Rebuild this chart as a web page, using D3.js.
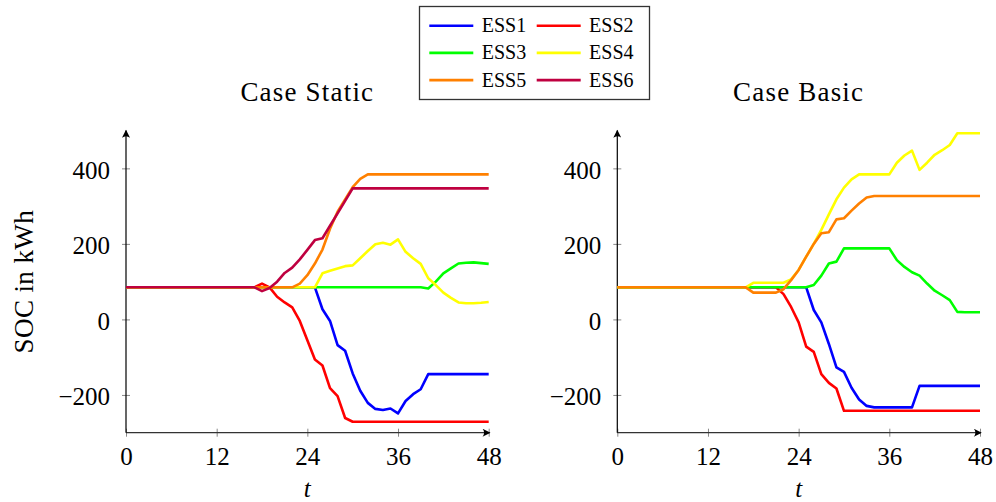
<!DOCTYPE html>
<html lang="en">
<head>
<meta charset="UTF-8">
<title>SOC of ESS - Case Static / Case Basic</title>
<script src="https://d3js.org/d3.v7.min.js"></script>
<style>
  body { margin: 0; background: #fff; }
  text { font-family: "Liberation Serif", "DejaVu Serif", serif; fill: #000; }
</style>
</head>
<body>
<script>
// time steps (hours)
const hours = [
  0, 1, 2, 3, 4, 5, 6, 7, 8, 9,
  10, 11, 12, 13, 14, 15, 16, 17, 18, 19,
  20, 21, 22, 23, 24, 25, 26, 27, 28, 29,
  30, 31, 32, 33, 34, 35, 36, 37, 38, 39,
  40, 41, 42, 43, 44, 45, 46, 47, 48
];

// Case Static
const staticESS1 = [
  85, 85, 85, 85, 85, 85, 85, 85, 85, 85,
  85, 85, 85, 85, 85, 85, 85, 85, 85, 85,
  85, 85, 85, 85, 85, 85, 27, -4, -68, -83,
  -143, -189, -221, -237, -240, -236, -249, -216, -198, -185,
  -145, -145, -145, -145, -145, -145, -145, -145, -145
];
const staticESS2 = [
  85, 85, 85, 85, 85, 85, 85, 85, 85, 85,
  85, 85, 85, 85, 85, 85, 85, 85, 95, 85,
  60, 45, 32, -4, -55, -106, -122, -182, -203, -261,
  -271, -271, -271, -271, -271, -271, -271, -271, -271, -271,
  -271, -271, -271, -271, -271, -271, -271, -271, -271
];
const staticESS3 = [
  85, 85, 85, 85, 85, 85, 85, 85, 85, 85,
  85, 85, 85, 85, 85, 85, 85, 85, 85, 85,
  85, 85, 85, 85, 85, 85, 85, 85, 85, 85,
  85, 85, 85, 85, 85, 85, 85, 85, 85, 85,
  82, 100, 122, 135, 148, 150, 151, 149, 147
];
const staticESS4 = [
  85, 85, 85, 85, 85, 85, 85, 85, 85, 85,
  85, 85, 85, 85, 85, 85, 85, 85, 85, 85,
  85, 85, 85, 85, 85, 85, 122, 129, 135, 141,
  143, 162, 181, 199, 203, 198, 212, 179, 162, 147,
  109, 91, 71, 57, 45, 43, 43, 44, 46
];
const staticESS5 = [
  85, 85, 85, 85, 85, 85, 85, 85, 85, 85,
  85, 85, 85, 85, 85, 85, 85, 85, 85, 85,
  85, 85, 85, 95, 117, 148, 185, 240, 285, 318,
  350, 372, 384, 384, 384, 384, 384, 384, 384, 384,
  384, 384, 384, 384, 384, 384, 384, 384, 384
];
const staticESS6 = [
  85, 85, 85, 85, 85, 85, 85, 85, 85, 85,
  85, 85, 85, 85, 85, 85, 85, 85, 75, 83,
  100, 123, 137, 159, 184, 210, 215, 248, 281, 314,
  347, 347, 347, 347, 347, 347, 347, 347, 347, 347,
  347, 347, 347, 347, 347, 347, 347, 347, 347
];

// Case Basic
const basicESS1 = [
  85, 85, 85, 85, 85, 85, 85, 85, 85, 85,
  85, 85, 85, 85, 85, 85, 85, 85, 85, 85,
  85, 85, 85, 85, 85, 85, 25, -8, -65, -127,
  -139, -181, -212, -229, -233, -233, -233, -233, -233, -233,
  -176, -176, -176, -176, -176, -176, -176, -176, -176
];
const basicESS2 = [
  85, 85, 85, 85, 85, 85, 85, 85, 85, 85,
  85, 85, 85, 85, 85, 85, 85, 85, 85, 85,
  85, 85, 67, 33, -8, -72, -86, -145, -168, -183,
  -242, -242, -242, -242, -242, -242, -242, -242, -242, -242,
  -242, -242, -242, -242, -242, -242, -242, -242, -242
];
const basicESS3 = [
  85, 85, 85, 85, 85, 85, 85, 85, 85, 85,
  85, 85, 85, 85, 85, 85, 85, 85, 85, 85,
  85, 85, 85, 85, 85, 85, 91, 116, 148, 153,
  188, 188, 188, 188, 188, 188, 188, 157, 139, 125,
  116, 95, 76, 64, 51, 20, 19, 19, 19
];
const basicESS4 = [
  85, 85, 85, 85, 85, 85, 85, 85, 85, 85,
  85, 85, 85, 85, 85, 85, 85, 85, 97, 97,
  97, 97, 97, 106, 131, 166, 200, 237, 278, 318,
  349, 371, 384, 384, 384, 384, 384, 415, 434, 447,
  396, 415, 436, 448, 462, 493, 493, 493, 493
];
const basicESS5 = [
  85, 85, 85, 85, 85, 85, 85, 85, 85, 85,
  85, 85, 85, 85, 85, 85, 85, 85, 71, 71,
  71, 71, 80, 104, 131, 166, 200, 228, 231, 265,
  268, 288, 307, 323, 327, 327, 327, 327, 327, 327,
  327, 327, 327, 327, 327, 327, 327, 327, 327
];

const seriesNames = ["ESS1", "ESS2", "ESS3", "ESS4", "ESS5", "ESS6"];
const seriesColors = ["#0000ff", "#ff0000", "#00ff00", "#ffff00", "#ff8000", "#bf0040"];
const xTicks = [0, 12, 24, 36, 48];
const yTicks = [-200, 0, 200, 400];

const width = 996, height = 502;

const svg = d3.select("body").append("svg")
  .attr("width", width)
  .attr("height", height);

// arrow head used by both axes
svg.append("defs").append("marker")
  .attr("id", "arrow")
  .attr("viewBox", "0 0 10 10")
  .attr("refX", 9)
  .attr("refY", 5)
  .attr("markerWidth", 10)
  .attr("markerHeight", 8)
  .attr("markerUnits", "userSpaceOnUse")
  .attr("orient", "auto")
  .append("path")
  .attr("d", "M0,0 Q4,5 0,10 L10,5 Z")
  .attr("fill", "#000");

const y = d3.scaleLinear().domain([-300, 500]).range([432.7, 130.6]);

function drawPanel(left, title, seriesList, yLabel) {
  const x = d3.scaleLinear().domain([0, 48]).range([left, left + 362.7]);
  const g = svg.append("g");

  // x axis
  const xAxis = g.append("g")
    .attr("transform", `translate(0,${y(-300)})`)
    .call(d3.axisBottom(x).tickValues(xTicks).tickSize(4).tickPadding(10.5).tickFormat(d3.format("d")));
  xAxis.select(".domain").remove();
  xAxis.selectAll(".tick line").attr("y1", -4).attr("stroke", "#888");
  xAxis.selectAll(".tick text").attr("font-size", 25).attr("font-family", null);

  // y axis
  const yAxis = g.append("g")
    .attr("transform", `translate(${left},0)`)
    .call(d3.axisLeft(y).tickValues(yTicks).tickSize(4).tickPadding(12));
  yAxis.select(".domain").remove();
  yAxis.selectAll(".tick line").attr("x1", 4).attr("stroke", "#888");
  yAxis.selectAll(".tick text").attr("font-size", 25).attr("dy", "0.4em").attr("font-family", null);

  g.append("line")
    .attr("x1", x(0)).attr("x2", x(48) + 1)
    .attr("y1", y(-300)).attr("y2", y(-300))
    .attr("stroke", "#333").attr("stroke-width", 1.2)
    .attr("marker-end", "url(#arrow)");
  g.append("line")
    .attr("x1", x(0)).attr("x2", x(0))
    .attr("y1", y(-300)).attr("y2", y(500))
    .attr("stroke", "#000").attr("stroke-width", 1.2)
    .attr("marker-end", "url(#arrow)");

  // curves
  const line = d3.line()
    .x((d, i) => x(hours[i]))
    .y(d => y(d));

  g.selectAll(".soc")
    .data(seriesList)
    .enter().append("path")
    .attr("class", "soc")
    .attr("d", d => line(d.values))
    .attr("fill", "none")
    .attr("stroke", d => d.color)
    .attr("stroke-width", 2.6)
    .attr("stroke-linejoin", "round");

  // title and axis labels
  g.append("text")
    .attr("x", x(24)).attr("y", 101)
    .attr("text-anchor", "middle")
    .attr("font-size", 27)
    .attr("letter-spacing", 1.2)
    .text(title);

  g.append("text")
    .attr("x", x(24)).attr("y", 497)
    .attr("text-anchor", "middle")
    .attr("font-size", 25)
    .attr("font-style", "italic")
    .text("t");

  if (yLabel) {
    g.append("text")
      .attr("transform", `translate(33,${(y(-300) + y(500)) / 2}) rotate(-90)`)
      .attr("text-anchor", "middle")
      .attr("font-size", 27)
      .attr("letter-spacing", 0.4)
      .text(yLabel);
  }
}

const staticSeries = [staticESS1, staticESS2, staticESS3, staticESS4, staticESS5, staticESS6]
  .map((v, i) => ({ name: seriesNames[i], color: seriesColors[i], values: v }));
const basicSeries = [basicESS1, basicESS2, basicESS3, basicESS4, basicESS5]
  .map((v, i) => ({ name: seriesNames[i], color: seriesColors[i], values: v }));

drawPanel(126, "Case Static", staticSeries, "SOC in kWh");
drawPanel(617.3, "Case Basic", basicSeries, null);

// legend, two columns
const legend = svg.append("g");
legend.append("rect")
  .attr("x", 419.5).attr("y", 6.5)
  .attr("width", 230).attr("height", 93)
  .attr("fill", "#fff")
  .attr("stroke", "#333").attr("stroke-width", 1.3);

const items = legend.selectAll(".item")
  .data(seriesNames)
  .enter().append("g")
  .attr("class", "item")
  .attr("transform", (d, i) => `translate(${i % 2 === 0 ? 429.3 : 536.7},${25.7 + Math.floor(i / 2) * 27.2})`);

items.append("line")
  .attr("x1", 0).attr("x2", 44)
  .attr("stroke", (d, i) => seriesColors[i])
  .attr("stroke-width", 2.6);

items.append("text")
  .attr("x", 52.4).attr("y", 6.5)
  .attr("font-size", 20)
  .text(d => d);
</script>
</body>
</html>
